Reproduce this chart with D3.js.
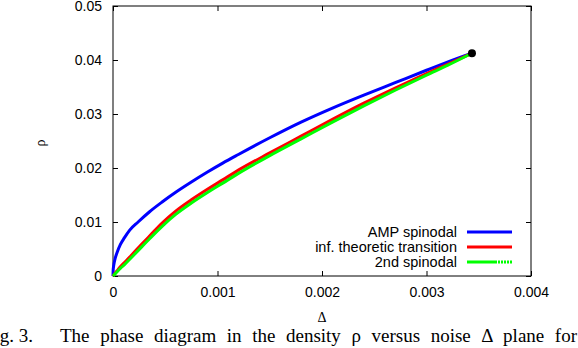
<!DOCTYPE html>
<html><head><meta charset="utf-8">
<script src="https://cdn.jsdelivr.net/npm/d3@7"></script>
<style>body{margin:0;background:#fff}svg{display:block}</style>
</head><body>
<script>
const delta = [0, 0.000002, 0.000005, 0.00001, 0.00002, 0.00004, 0.00007, 0.00011, 0.00016, 0.00024, 0.00035, 0.00047, 0.0006, 0.00075, 0.0009, 0.00105, 0.0012, 0.0015, 0.0018, 0.0021, 0.0024, 0.0027, 0.003, 0.0032, 0.00344];
const ampSpinodal = [0, 0.0012, 0.0017, 0.0023, 0.0032, 0.0044, 0.0058, 0.0071, 0.0085, 0.0100, 0.0119, 0.0137, 0.0155, 0.0174, 0.0192, 0.0209, 0.0225, 0.0256, 0.0285, 0.0311, 0.0335, 0.0358, 0.0381, 0.0396, 0.0413];
const infTransition = [0, 0.00006, 0.00014, 0.00027, 0.00052, 0.0010, 0.0017, 0.0025, 0.0035, 0.0052, 0.0074, 0.0098, 0.0120, 0.0141, 0.0160, 0.0178, 0.0196, 0.0228, 0.0259, 0.0290, 0.0320, 0.0348, 0.0375, 0.0392, 0.0413];
const secondSpinodal = [0, 0.00004, 0.0001, 0.0002, 0.0004, 0.0008, 0.0014, 0.0021, 0.0031, 0.0047, 0.0069, 0.0092, 0.0114, 0.0135, 0.0154, 0.0172, 0.0190, 0.0223, 0.0254, 0.0285, 0.0315, 0.0344, 0.0372, 0.0390, 0.0413];
const endPoint = [0.003435, 0.04125];
const xTicks = [0, 0.001, 0.002, 0.003, 0.004];
const yTicks = [0, 0.01, 0.02, 0.03, 0.04, 0.05];
const seriesNames = ["AMP spinodal", "inf. theoretic transition", "2nd spinodal"];
const seriesColors = ["#0000ff", "#ff0000", "#00ff00"];

const W = 578, H = 348;
const m = {left: 113, right: 531, top: 6, bottom: 276};
const svg = d3.select("body").append("svg").attr("width", W).attr("height", H);
const x = d3.scaleLinear().domain([0, 0.004]).range([m.left, m.right]);
const y = d3.scaleLinear().domain([0, 0.05]).range([m.bottom, m.top]);

const sans = "'Liberation Sans', Arial, sans-serif";
const serif = "'Liberation Serif', 'Times New Roman', serif";

svg.append("rect").attr("x", m.left).attr("y", m.top).attr("width", m.right - m.left).attr("height", m.bottom - m.top)
  .attr("fill", "none").attr("stroke", "#000").attr("stroke-width", 1);

const fmt = d => d === 0 ? "0" : d3.format(".3f")(d);
const fmtY = d => d === 0 ? "0" : d3.format(".2f")(d);

const gb = svg.append("g").attr("transform", `translate(0,${m.bottom})`)
  .call(d3.axisBottom(x).tickValues(xTicks).tickFormat(fmt).tickSizeInner(-5).tickSizeOuter(0).tickPadding(11));
const gt = svg.append("g").attr("transform", `translate(0,${m.top})`)
  .call(d3.axisTop(x).tickValues(xTicks).tickFormat("").tickSizeInner(-5).tickSizeOuter(0));
const gl = svg.append("g").attr("transform", `translate(${m.left},0)`)
  .call(d3.axisLeft(y).tickValues(yTicks).tickFormat(fmtY).tickSizeInner(-5).tickSizeOuter(0).tickPadding(11));
const gr = svg.append("g").attr("transform", `translate(${m.right},0)`)
  .call(d3.axisRight(y).tickValues(yTicks).tickFormat("").tickSizeInner(-5).tickSizeOuter(0));
[gb, gt, gl, gr].forEach(g => {
  g.select(".domain").remove();
  g.selectAll("text").attr("font-family", sans).attr("font-size", 14).attr("fill", "#000");
});
gl.selectAll(".tick text").attr("dy", "0.34em");

svg.append("text").attr("x", x(0.002)).attr("y", 322).attr("text-anchor", "middle")
  .attr("font-family", serif).attr("font-size", 14).text("Δ");
svg.append("text").attr("transform", "translate(45,143) rotate(-90)").attr("text-anchor", "middle")
  .attr("font-family", serif).attr("font-size", 14).text("ρ");

const seriesData = [ampSpinodal, infTransition, secondSpinodal];
const line = d3.line().x((d, i) => x(delta[i])).y(d => y(d)).curve(d3.curveMonotoneX);
seriesData.forEach((s, k) => {
  svg.append("path").datum(s).attr("d", line).attr("fill", "none")
    .attr("stroke", seriesColors[k]).attr("stroke-width", 3);
});
svg.append("circle").attr("cx", x(endPoint[0])).attr("cy", y(endPoint[1])).attr("r", 4).attr("fill", "#000");

const legY = [232, 247, 262];
seriesNames.forEach((n, k) => {
  svg.append("text").attr("x", 457).attr("y", legY[k] + 5).attr("text-anchor", "end")
    .attr("font-family", sans).attr("font-size", 14.5).text(n);
  svg.append("line").attr("x1", 467).attr("x2", 512).attr("y1", legY[k]).attr("y2", legY[k])
    .attr("stroke", seriesColors[k]).attr("stroke-width", 3)
    .attr("stroke-dasharray", k === 2 ? "30,1,2,1,2,1,2,1,2,1" : null);
});

svg.append("text").attr("x", -16).attr("y", 342).attr("font-family", serif).attr("font-size", 19)
  .text("Fig. 3.");
const cap = svg.append("text").attr("x", 60).attr("y", 342).attr("font-family", serif).attr("font-size", 19)
  .text("The phase diagram in the density \u03C1 versus noise \u0394 plane for");
const len = cap.node().getComputedTextLength();
cap.attr("word-spacing", Math.max(0, (517 - len) / 11));
</script>
</body></html>
